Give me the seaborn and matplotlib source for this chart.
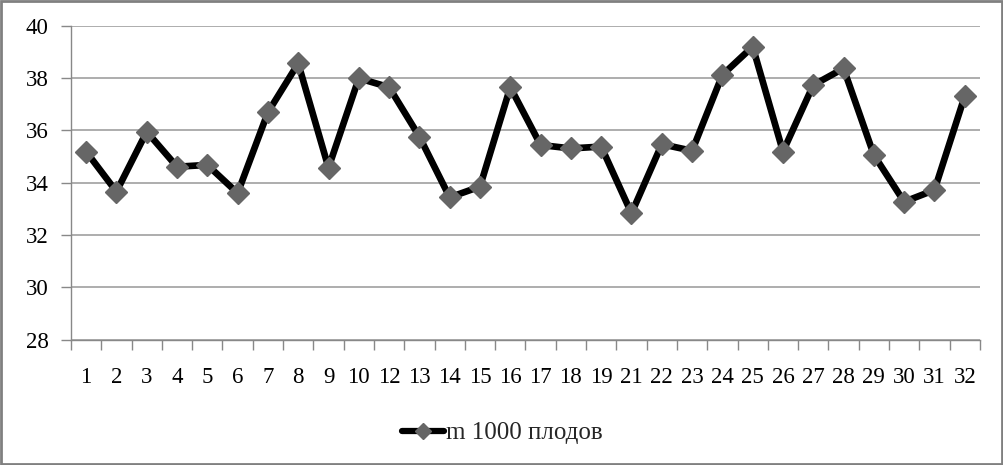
import matplotlib
matplotlib.use("Agg")
import matplotlib.pyplot as plt
import seaborn as sns
import pandas as pd
from matplotlib.patches import Rectangle
from matplotlib.lines import Line2D

categories = ["1", "2", "3", "4", "5", "6", "7", "8", "9", "10", "12", "13", "14", "15", "16",
              "17", "18", "19", "21", "22", "23", "24", "25", "26", "27", "28", "29", "30", "31", "32"]
values = [35.19, 33.66, 35.95, 34.61, 34.68, 33.60, 36.69, 38.56, 34.57, 37.99, 37.65, 35.76, 33.44, 33.85, 37.65,
          35.44, 35.31, 35.38, 32.83, 35.47, 35.22, 38.12, 39.20, 35.19, 37.73, 38.37, 35.06, 33.27, 33.72, 37.31]
y_ticks = [28, 30, 32, 34, 36, 38, 40]
series_name = "m 1000 плодов"

sns.set_theme(style="white")
plt.rcParams["font.family"] = ["Liberation Serif", "DejaVu Serif"]

df = pd.DataFrame({"cat": pd.Categorical(categories, categories=categories, ordered=True), "val": values})

fig = plt.figure(figsize=(10.04, 4.65), dpi=100)
ax = fig.add_axes([0.0707, 0.2695, 0.9053, 0.6752])

sns.lineplot(data=df, x="cat", y="val", ax=ax, color="black", linewidth=4.8,
             marker="D", markersize=11.5, markerfacecolor="#666666", markeredgecolor="#666666",
             markeredgewidth=1, sort=False)

ax.set_ylim(28, 40)
ax.set_yticks(y_ticks)
ax.set_xlim(-0.5, len(categories) - 0.5)
ax.set_xticks(range(len(categories)))
ax.set_xticklabels(categories)
ax.set_xticks([i - 0.5 for i in range(len(categories) + 1)], minor=True)
ax.tick_params(axis="x", which="major", length=0, pad=20, labelsize=16.5, colors="black")
ax.tick_params(axis="x", which="minor", length=7, width=1, color="#888888", direction="out", bottom=True)
ax.tick_params(axis="y", which="major", length=7, width=1, color="#888888", direction="out", left=True,
               pad=9, labelsize=16.5, labelcolor="black")
ax.set_xlabel("")
ax.set_ylabel("")
ax.grid(axis="y", color="#a0a0a0", linewidth=1.2)
ax.grid(axis="x", visible=False)
ax.set_axisbelow(True)
for s in ["top", "right"]:
    ax.spines[s].set_visible(False)
for s in ["left", "bottom"]:
    ax.spines[s].set_color("#888888")
    ax.spines[s].set_linewidth(1)
leg = ax.get_legend()
if leg:
    leg.remove()

handle = Line2D([], [], color="black", linewidth=4.5, marker="D", markersize=8,
                markerfacecolor="#666666", markeredgecolor="#666666")
fig.legend([handle], [series_name], loc="center", bbox_to_anchor=(0.5, 1 - 433 / 465),
           frameon=False, fontsize=18, handlelength=1.7, handletextpad=0.05)

fig.patches.append(Rectangle((0.001, 0.002), 0.997, 0.995, transform=fig.transFigure,
                             fill=False, edgecolor="#808080", linewidth=2))

fig.savefig("out.png", dpi=100, facecolor="white")
